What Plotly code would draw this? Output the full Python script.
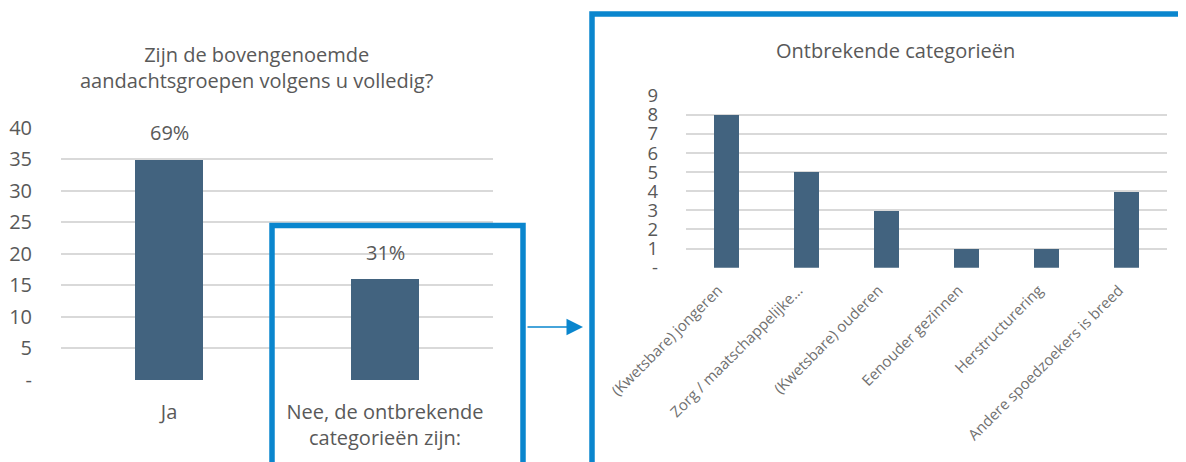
import plotly.graph_objects as go

W, H = 1186, 462
OFF = 8  # page body margin compensation

# ---- data ----
left_categories = ["Ja", "Nee, de ontbrekende<br>categorieën zijn:"]
left_values = [35, 16]
left_labels = ["69%", "31%"]
left_ticks = [0, 5, 10, 15, 20, 25, 30, 35, 40]
left_ticktext = ["-", "5", "10", "15", "20", "25", "30", "35", "40"]

right_categories = [
    "(Kwetsbare) jongeren",
    "Zorg / maatschappelijke...",
    "(Kwetsbare) ouderen",
    "Eenouder gezinnen",
    "Herstructurering",
    "Andere spoedzoekers is breed",
]
right_values = [8, 5, 3, 1, 1, 4]
right_ticks = [0, 1, 2, 3, 4, 5, 6, 7, 8, 9]
right_ticktext = ["-", "1", "2", "3", "4", "5", "6", "7", "8", "9"]

title_left = "Zijn de bovengenoemde<br>aandachtsgroepen volgens u volledig?"
title_right = "Ontbrekende categorieën"

# ---- style ----
FONT = "Open Sans"
TXT = "#595959"
TXT_LIGHT = "#707070"
BAR = "#42637F"
GRID = "#D9D9D9"
BLUE = "#0A86CE"


def px(x):
    return (x - OFF) / W


def py(y):
    return (H - (y - OFF)) / H


fig = go.Figure()

fig.add_trace(go.Bar(
    x=left_categories, y=left_values, marker=dict(color=BAR, line=dict(width=0)),
    width=0.315, xaxis="x", yaxis="y", showlegend=False, hoverinfo="x+y",
))
fig.add_trace(go.Bar(
    x=right_categories, y=right_values, marker=dict(color=BAR, line=dict(width=0)),
    width=0.31, xaxis="x2", yaxis="y2", showlegend=False, hoverinfo="x+y",
))

annotations = []
for c, v, t in zip(left_categories, left_values, left_labels):
    annotations.append(dict(
        x=c, y=v, xref="x", yref="y", text=t, showarrow=False,
        yanchor="bottom", yshift=11, font=dict(family=FONT, size=20, color=TXT),
    ))

annotations.append(dict(
    x=px(257), y=py(67.5), xref="paper", yref="paper", text=title_left, showarrow=False,
    xanchor="center", yanchor="middle", align="center",
    font=dict(family=FONT, size=20, color=TXT),
))
annotations.append(dict(
    x=px(895), y=py(50), xref="paper", yref="paper", text=title_right, showarrow=False,
    xanchor="center", yanchor="middle", font=dict(family=FONT, size=20, color=TXT),
))
# arrow
annotations.append(dict(
    x=px(583), y=py(327), xref="paper", yref="paper", text="",
    showarrow=True, ax=-57, ay=0, axref="pixel", ayref="pixel",
    arrowhead=2, arrowsize=2.2, arrowwidth=1.5, arrowcolor=BLUE, standoff=0,
))

shapes = [
    dict(type="rect", xref="paper", yref="paper",
         x0=px(272), x1=px(523), y0=py(225.5), y1=py(490),
         line=dict(color=BLUE, width=5.5), fillcolor="rgba(0,0,0,0)", layer="above"),
    dict(type="rect", xref="paper", yref="paper",
         x0=px(592), x1=px(1220), y0=py(14), y1=py(490),
         line=dict(color=BLUE, width=5.5), fillcolor="rgba(0,0,0,0)", layer="above"),
]

fig.update_layout(
    width=W, height=H,
    margin=dict(l=0, r=0, t=0, b=0, autoexpand=False),
    paper_bgcolor="white", plot_bgcolor="white",
    font=dict(family=FONT, color=TXT),
    bargap=0.0,
    xaxis=dict(
        domain=[px(61), px(493)], type="category", showgrid=False, zeroline=False,
        showline=False, ticks="", ticklabelstandoff=18, automargin=False,
        tickfont=dict(family=FONT, size=20, color=TXT), anchor="y", fixedrange=True,
    ),
    yaxis=dict(
        domain=[py(380), py(127.7)], range=[0, 40], tickvals=left_ticks, ticktext=left_ticktext,
        showgrid=True, gridcolor=GRID, gridwidth=1.5, zeroline=False, showline=False,
        ticks="", ticklabelstandoff=28, tickfont=dict(family=FONT, size=20, color=TXT),
        anchor="x", fixedrange=True, automargin=False,
    ),
    xaxis2=dict(
        domain=[px(686), px(1167)], type="category", showgrid=False, zeroline=False,
        showline=False, ticks="", tickangle=-45, ticklabelstandoff=10, ticklabelshift=-8,
        automargin=False,
        tickfont=dict(family=FONT, size=15, color=TXT_LIGHT), anchor="y2", fixedrange=True,
    ),
    yaxis2=dict(
        domain=[py(267.7), py(95.7)], range=[0, 9], tickvals=right_ticks, ticktext=right_ticktext,
        showgrid=True, gridcolor=GRID, gridwidth=1.5, zeroline=False, showline=False,
        ticks="", ticklabelstandoff=27, tickfont=dict(family=FONT, size=18.5, color=TXT),
        anchor="x2", fixedrange=True, automargin=False,
    ),
    annotations=annotations,
    shapes=shapes,
)

fig.write_html("out.html")
